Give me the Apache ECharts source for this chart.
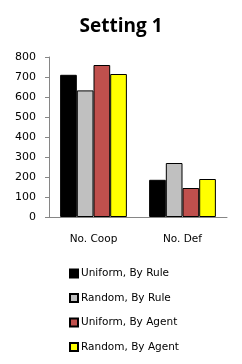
<!DOCTYPE html>
<html><head><meta charset="utf-8">
<script src="https://cdn.jsdelivr.net/npm/echarts@6/dist/echarts.min.js"></script>
<style>html,body{margin:0;padding:0;background:#fff}#c{width:242px;height:364px}</style>
</head><body><div id="c"></div>
<script>
const categories = ['No. Coop', 'No. Def'];
const seriesNames = ['Uniform, By Rule', 'Random, By Rule', 'Uniform, By Agent', 'Random, By Agent'];
const uniformByRule = [711, 186];
const randomByRule = [633, 270];
const uniformByAgent = [760, 145];
const randomByAgent = [715, 190];
const yTicks = [0, 100, 200, 300, 400, 500, 600, 700, 800];
const colors = ['#000000', '#C0C0C0', '#C0504D', '#FFFF00'];
const values = [uniformByRule, randomByRule, uniformByAgent, randomByAgent];

const chart = echarts.init(document.getElementById('c'), null, {renderer: 'canvas'});
chart.setOption({
  animation: false,
  title: {text: 'Setting 1', left: 'center', top: 12,
    textStyle: {fontFamily: 'Open Sans', fontWeight: 'bold', fontSize: 19, color: '#000'}},
  grid: {left: 49, right: 15, top: 57, bottom: 147, containLabel: false},
  legend: {
    orient: 'vertical', left: 64, top: 263, itemGap: 13.5, itemWidth: 8, itemHeight: 8,
    icon: 'rect',
    textStyle: {fontFamily: 'DejaVu Sans', fontSize: 10.5, color: '#000', padding: [0,0,0,-2]},
    data: seriesNames
  },
  xAxis: {
    type: 'category', data: categories,
    axisLine: {lineStyle: {color: '#868686'}},
    axisTick: {length: 4, lineStyle: {color: '#868686'}},
    axisLabel: {fontFamily: 'DejaVu Sans', fontSize: 10.5, color: '#000', margin: 17}
  },
  yAxis: {
    type: 'value', min: yTicks[0], max: yTicks[yTicks.length-1], interval: 100,
    splitLine: {show: false},
    axisLine: {show: true, lineStyle: {color: '#868686'}},
    axisTick: {show: true, length: 4, lineStyle: {color: '#868686'}},
    axisLabel: {fontFamily: 'DejaVu Sans', fontSize: 11, color: '#000', margin: 13}
  },
  series: seriesNames.map((n, i) => ({
    name: n, type: 'bar', data: values[i],
    barGap: '0%', barCategoryGap: '25%',
    itemStyle: {color: colors[i], borderColor: '#000', borderWidth: 1}
  }))
});
</script></body></html>
